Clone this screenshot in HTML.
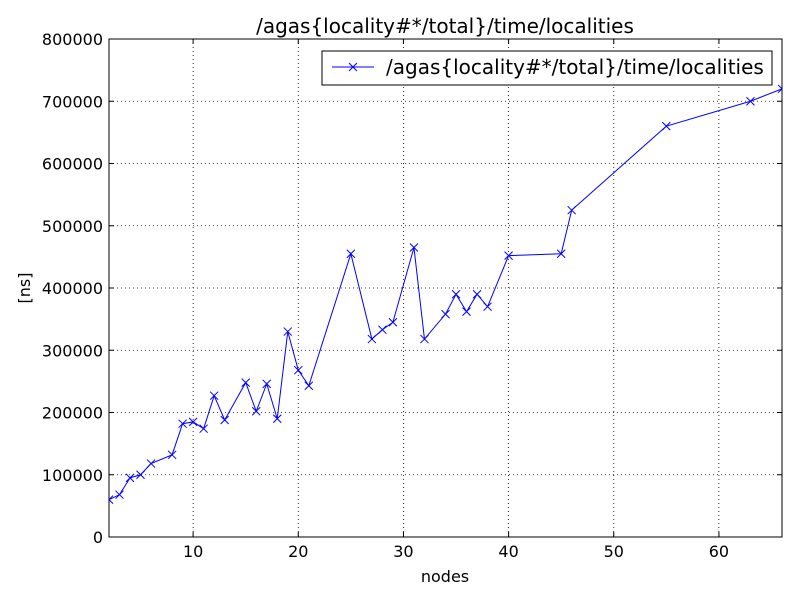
<!DOCTYPE html>
<html><head><meta charset="utf-8"><style>
body{margin:0;background:#fff;}
svg text{font-family:"DejaVu Sans","Liberation Sans",sans-serif;fill:#000;}
</style></head><body>
<svg id="s" width="800" height="600" xmlns="http://www.w3.org/2000/svg"></svg>
<script>
const L=109,R=782,T=39,B=537;
const X=v=>L+(v-2)/64*(R-L), Y=v=>B-v/800000*(B-T);
let h='<rect width="800" height="600" fill="#fff"/>';
h+='<text x="445" y="33" font-size="20" text-anchor="middle">/agas{locality#*/total}/time/localities</text>';
for(let v=10;v<=60;v+=10){const x=X(v);
 h+=`<line x1="${x}" y1="${T}" x2="${x}" y2="${B}" stroke="#000" stroke-width="0.8" stroke-dasharray="1,3"/>`;
 h+=`<line x1="${x}" y1="${B}" x2="${x}" y2="${B-5}" stroke="#000"/><line x1="${x}" y1="${T}" x2="${x}" y2="${T+5}" stroke="#000"/>`;
 h+=`<text x="${x}" y="557" font-size="16" text-anchor="middle">${v}</text>`;}
for(let v=0;v<=800000;v+=100000){const y=Y(v);
 if(v>0&&v<800000)h+=`<line x1="${L}" y1="${y}" x2="${R}" y2="${y}" stroke="#000" stroke-width="0.8" stroke-dasharray="1,3"/>`;
 h+=`<line x1="${L}" y1="${y}" x2="${L+5}" y2="${y}" stroke="#000"/><line x1="${R}" y1="${y}" x2="${R-5}" y2="${y}" stroke="#000"/>`;
 h+=`<text x="${L-6}" y="${y+6}" font-size="16" text-anchor="end">${v}</text>`;}
h+=`<rect x="${L}" y="${T}" width="${R-L}" height="${B-T}" fill="none" stroke="#000" stroke-width="1"/>`;
h+='<text x="445" y="582" font-size="16" text-anchor="middle">nodes</text>';
h+='<text transform="translate(30,288) rotate(-90)" font-size="16" text-anchor="middle">[ns]</text>';
const d=[[2,60000],[3,68000],[4,95000],[5,100000],[6,118000],[8,132000],[9,182000],[10,185000],[11,174000],[12,227000],[13,188000],[15,248000],[16,202000],[17,246000],[18,190000],[19,330000],[20,268000],[21,243000],[25,455000],[27,318000],[28,333000],[29,345000],[31,465000],[32,318000],[34,358000],[35,390000],[36,362000],[37,390000],[38,370000],[40,452000],[45,455000],[46,525000],[55,660000],[63,700000],[66,720000]];
h+='<svg x="'+L+'" y="'+T+'" width="'+(R-L)+'" height="'+(B-T)+'" overflow="hidden"><g transform="translate('+(-L)+','+(-T)+')">';
h+='<polyline fill="none" stroke="#0000ff" stroke-width="1" points="'+d.map(p=>X(p[0])+','+Y(p[1])).join(' ')+'"/>';
d.forEach(p=>{const x=X(p[0]),y=Y(p[1]);h+=`<path d="M${x-4},${y-4}L${x+4},${y+4}M${x-4},${y+4}L${x+4},${y-4}" stroke="#0000ff" stroke-width="1"/>`;});
h+='</g></svg>';
h+='<rect x="322" y="51" width="450" height="34" fill="#fff" stroke="#000" stroke-width="1"/>';
h+='<line x1="332" y1="67" x2="374" y2="67" stroke="#0000ff"/><path d="M349,63L357,71M349,71L357,63" stroke="#0000ff"/>';
h+='<text x="386" y="74" font-size="20">/agas{locality#*/total}/time/localities</text>';
document.getElementById('s').innerHTML=h;
</script>
</body></html>
